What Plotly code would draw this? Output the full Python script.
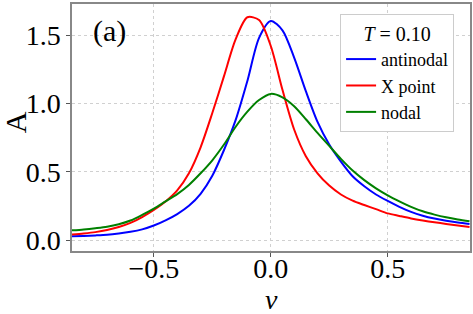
import plotly.graph_objects as go

# shared sample positions (nu)
nu = [-0.85, -0.80, -0.75, -0.70, -0.65, -0.60, -0.55, -0.50, -0.45, -0.40, -0.35, -0.30,
      -0.25, -0.20, -0.15, -0.10, -0.05, 0.00, 0.05, 0.10, 0.15, 0.20, 0.25, 0.30,
      0.35, 0.40, 0.45, 0.50, 0.55, 0.60, 0.65, 0.70, 0.75, 0.80, 0.85]

# antinodal (blue)
anti_y = [0.029, 0.032, 0.036, 0.041, 0.050, 0.062, 0.080, 0.108, 0.146, 0.192, 0.252, 0.340,
          0.472, 0.660, 0.880, 1.165, 1.480, 1.603, 1.535, 1.335, 1.090, 0.865, 0.700, 0.575,
          0.468, 0.395, 0.335, 0.288, 0.245, 0.208, 0.180, 0.159, 0.143, 0.130, 0.119]

# X point (red)
xp_y = [0.042, 0.050, 0.060, 0.075, 0.097, 0.127, 0.170, 0.222, 0.284, 0.365, 0.490, 0.680,
        0.930, 1.200, 1.470, 1.630, 1.610, 1.420, 1.100, 0.810, 0.615, 0.490, 0.400, 0.335,
        0.290, 0.258, 0.228, 0.197, 0.178, 0.160, 0.145, 0.132, 0.120, 0.108, 0.097]

# nodal (green)
nod_y = [0.073, 0.080, 0.089, 0.100, 0.118, 0.145, 0.186, 0.232, 0.285, 0.338, 0.405, 0.490,
         0.585, 0.700, 0.830, 0.940, 1.025, 1.070, 1.045, 0.980, 0.885, 0.785, 0.690, 0.595,
         0.510, 0.440, 0.380, 0.329, 0.285, 0.245, 0.212, 0.188, 0.168, 0.152, 0.139]

x_ticks = [-0.5, 0.0, 0.5]
x_tick_labels = ["\u22120.5", "0.0", "0.5"]
y_ticks = [0.0, 0.5, 1.0, 1.5]
y_tick_labels = ["0.0", "0.5", "1.0", "1.5"]

FONT = "Liberation Serif"

fig = go.Figure()
for ys, name, col in [(anti_y, "antinodal", "#0000ff"),
                      (xp_y, "X point", "#ff0000"),
                      (nod_y, "nodal", "#008000")]:
    fig.add_trace(go.Scatter(x=nu, y=ys, mode="lines", name=name,
                             line=dict(color=col, width=2, shape="spline", smoothing=0.8)))

axis_common = dict(showgrid=True, gridcolor="#d0d0d0", griddash="dot", gridwidth=1,
                   showline=True, linecolor="#888888", linewidth=1.5, mirror=True,
                   ticks="outside", ticklen=4, tickcolor="#555555", zeroline=False,
                   automargin=False,
                   tickfont=dict(family=FONT, size=28, color="black"))

fig.update_layout(
    width=473, height=314,
    margin=dict(l=72, r=3, t=4, b=63),
    paper_bgcolor="white", plot_bgcolor="white",
    font=dict(family=FONT, color="black"),
    xaxis=dict(range=[-0.85, 0.852], tickvals=x_ticks, ticktext=x_tick_labels,
               ticklabelstandoff=-12, **axis_common),
    yaxis=dict(range=[-0.078, 1.727], tickvals=y_ticks, ticktext=y_tick_labels,
               **axis_common),
    legend=dict(x=0.96, y=0.96, xanchor="right", yanchor="top",
                bgcolor="white", bordercolor="#cccccc", borderwidth=1,
                font=dict(family=FONT, size=18, color="black"),
                title=dict(text="<i>T</i> = 0.10", side="top center",
                           font=dict(family=FONT, size=20)),
                tracegroupgap=0, itemwidth=30),
    showlegend=True,
)
fig.add_annotation(x=0.095, y=0.89, xref="paper", yref="paper", text="(a)",
                   showarrow=False, xanchor="center", yanchor="middle",
                   font=dict(family=FONT, size=30, color="black"))
fig.add_annotation(x=-0.143, y=0.522, xref="paper", yref="paper", text="A",
                   showarrow=False, xanchor="center", yanchor="middle", textangle=-90,
                   font=dict(family=FONT, size=30, color="black"))
fig.add_annotation(x=0.5025, y=-0.196, xref="paper", yref="paper", text="<i>ν</i>",
                   showarrow=False, xanchor="center", yanchor="middle",
                   font=dict(family=FONT, size=28, color="black"))

fig.write_html("out.html", config={"displayModeBar": False},
               post_script="document.body.style.margin='0px';document.body.style.overflow='hidden';")
